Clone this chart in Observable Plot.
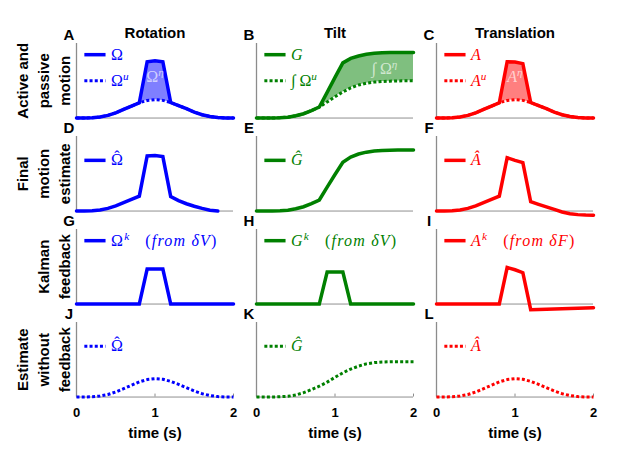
<!DOCTYPE html>
<html><head><meta charset="utf-8">
<script src="https://cdn.jsdelivr.net/npm/d3@7"></script>
<script src="https://cdn.jsdelivr.net/npm/@observablehq/plot@0.6"></script>
<style>body{margin:0;background:#fff}#chart{width:617px;height:454px}</style>
</head><body><div id="chart"></div>
<script>
// ---------- data ----------
const time = [0,0.1,0.2,0.3,0.4,0.5,0.6,0.7,0.8,0.9,1.0,1.1,1.2,1.3,1.4,1.5,1.6,1.7,1.8,1.9,2.0];
const columns = ["Rotation","Tilt","Translation"];
const rowKeys = ["active","final","kalman","nofb"];
const rowLabels = ["Active and\npassive\nmotion","Final\nmotion\nestimate","Kalman\nfeedback","Estimate\nwithout\nfeedback"];
const panelLetters = [["A","B","C"],["D","E","F"],["G","H","I"],["J","K","L"]];
const xTicks = [0,1,2];
const xLabel = "time (s)";

// Rotation
const omega        = [0,0.001,0.004,0.015,0.036,0.07,0.115,0.16,0.205,0.755,0.77,0.755,0.208,0.168,0.125,0.08,0.044,0.02,0.006,0.001,0];
const omegaU       = [0,0.001,0.004,0.015,0.036,0.07,0.115,0.16,0.205,0.235,0.247,0.237,0.208,0.168,0.125,0.08,0.044,0.02,0.006,0.001,0];
const omegaHat     = [0,0.001,0.004,0.015,0.036,0.07,0.112,0.155,0.2,0.74,0.745,0.73,0.195,0.14,0.098,0.065,0.036,0.012,0,null,null];
const omegaK       = [0,0,0,0,0,0,0,0,0,0.47,0.47,0.47,0,0,0,0,0,0,0,0,0];
const omegaHatNoFb = [0,0.001,0.004,0.014,0.034,0.068,0.112,0.158,0.203,0.234,0.246,0.238,0.21,0.17,0.126,0.082,0.045,0.02,0.006,0.001,0];
// Tilt
const tiltG        = [0,0,0.001,0.004,0.012,0.03,0.058,0.1,0.148,0.345,0.545,0.74,0.8,0.832,0.855,0.868,0.875,0.878,0.88,0.88,0.88];
const tiltIntU     = [0,0,0.001,0.004,0.012,0.03,0.058,0.1,0.148,0.215,0.285,0.35,0.405,0.443,0.467,0.482,0.49,0.495,0.498,0.5,0.5];
const tiltHat      = [0,0,0.001,0.004,0.012,0.03,0.058,0.1,0.148,0.32,0.49,0.655,0.725,0.765,0.79,0.805,0.812,0.816,0.818,0.82,0.82];
const tiltK        = [0,0,0,0,0,0,0,0,0,0.43,0.43,0.43,0,0,0,0,0,0,0,0,0];
const tiltHatNoFb  = [0,0,0.001,0.004,0.01,0.027,0.058,0.1,0.145,0.2,0.265,0.325,0.375,0.415,0.445,0.462,0.47,0.474,0.475,0.475,0.475];
// Translation
const acc          = [0,0.001,0.004,0.015,0.036,0.07,0.115,0.16,0.205,0.755,0.752,0.73,0.208,0.168,0.125,0.08,0.044,0.02,0.006,0.001,0];
const accU         = [0,0.001,0.004,0.015,0.036,0.07,0.115,0.16,0.205,0.235,0.247,0.237,0.208,0.168,0.125,0.08,0.044,0.02,0.006,0.001,0];
const accHat       = [0,0.001,0.004,0.015,0.036,0.07,0.112,0.155,0.2,0.715,0.68,0.65,0.125,0.09,0.056,0.022,-0.012,-0.035,-0.048,-0.053,-0.055];
const accK         = [0,0,0,0,0,0,0,0,0,0.49,0.46,0.42,-0.075,-0.072,-0.069,-0.066,-0.063,-0.059,-0.056,-0.053,-0.05];
const accHatNoFb   = [0,0.001,0.004,0.014,0.034,0.068,0.112,0.158,0.203,0.234,0.246,0.238,0.21,0.17,0.126,0.082,0.045,0.02,0.006,0.001,0];

// series: column, row, legend label (math markup: ^{..} superscript, ~ wide math gap), values, dotted?
const series = [
  ["Rotation","active","Ω",omega,false],
  ["Rotation","active","Ω^{u}",omegaU,true],
  ["Rotation","final","Ω\u0302",omegaHat,false],
  ["Rotation","kalman","Ω^{k}~(from δV)",omegaK,false],
  ["Rotation","nofb","Ω\u0302",omegaHatNoFb,true],
  ["Tilt","active","G",tiltG,false],
  ["Tilt","active","∫ Ω^{u}",tiltIntU,true],
  ["Tilt","final","Ĝ",tiltHat,false],
  ["Tilt","kalman","G^{k}~(from δV)",tiltK,false],
  ["Tilt","nofb","Ĝ",tiltHatNoFb,true],
  ["Translation","active","A",acc,false],
  ["Translation","active","A^{u}",accU,true],
  ["Translation","final","Â",accHat,false],
  ["Translation","kalman","A^{k}~(from δF)",accK,false],
  ["Translation","nofb","Â",accHatNoFb,true]
];
// shaded differences: column, lower, upper, t from, t to, label
const fills = [
  ["Rotation",omegaU,omega,0.8,1.2,"Ω^{η}"],
  ["Tilt",tiltIntU,tiltG,0.8,2.0,"∫ Ω^{η}"],
  ["Translation",accU,acc,0.8,1.2,"A^{η}"]
];

// ---------- styles / layout ----------
const colors = {Rotation:"#0000ff", Tilt:"#008000", Translation:"#ff0000"};
const legendSlotsY = {active:[0.85,0.5], final:[0.68], kalman:[0.85], nofb:[0.68]};
const fillLabelPos = {Rotation:[1.0,0.55], Tilt:[1.63,0.66], Translation:[1.0,0.55]};
const mathFont = "'Liberation Serif','Times New Roman',serif";

// ---------- tables built from the arrays ----------
const lineRows = series.flatMap(([col,row,label,vals,dotted],si) =>
  time.map((t,i)=>({si,col,row,t,v:vals[i],dotted,color:colors[col]})).filter(d=>d.v!=null));
const slotCount = {};
const legendRows = series.map(([col,row,label,vals,dotted]) => {
  const k = col+row; const s = slotCount[k] = (slotCount[k] ?? -1) + 1;
  return {col,row,label,dotted,color:colors[col],ly:legendSlotsY[row][s]};
});
const fillRows = fills.flatMap(([col,lo,hi,a,b],fi) =>
  time.map((t,i)=>({fi,col,row:"active",t,lo:lo[i],hi:hi[i],color:colors[col]})).filter(d=>d.t>=a-1e-9 && d.t<=b+1e-9));
const fillLabels = fills.map(([col,,,,,label])=>({col,row:"active",label,lx:fillLabelPos[col][0],ly:fillLabelPos[col][1]}));
const panels = columns.flatMap(col=>rowKeys.map(row=>({col,row})));
const letterRows = rowKeys.flatMap((row,ri)=>columns.map((col,ci)=>({col,row,letter:panelLetters[ri][ci]})));
const titleRows = columns.map(col=>({col,row:"active",title:col}));
const rowLabelRows = rowKeys.map((row,i)=>({col:"Rotation",row,label:rowLabels[i]}));
const tickRows = columns.flatMap(col=>xTicks.map(t=>({col,row:"nofb",t})));
const xLabelRows = columns.map(col=>({col,row:"nofb",label:xLabel}));

const F = {fx:"col", fy:"row"};
const chart = Plot.plot({
  width:617, height:454,
  marginLeft:75, marginRight:24, marginTop:43.3, marginBottom:49.7,
  x:{domain:[0,2], axis:null},
  y:{domain:[-0.1,1], axis:null},
  fx:{domain:columns, paddingInner:0.128, paddingOuter:0, axis:null},
  fy:{domain:rowKeys, paddingInner:0.1183, paddingOuter:0, axis:null},
  style:{fontFamily:"'Liberation Sans',Arial,sans-serif", overflow:"visible", background:"#fff"},
  marks:[
    Plot.areaY(fillRows,{...F, x:"t", y1:"lo", y2:"hi", z:"fi", fill:"color", fillOpacity:0.5}),
    Plot.ruleY(panels,{...F, y:()=>0, x1:()=>0, x2:()=>2, stroke:"#8f8f8f", strokeWidth:1}),
    Plot.ruleX(panels,{...F, x:()=>0, y1:()=>0, y2:()=>1, stroke:"#8c8c8c", strokeWidth:1.3}),
    Plot.ruleX(tickRows,{...F, x:"t", y1:()=>0, y2:()=>0.04, stroke:"#8c8c8c", strokeWidth:1}),
    Plot.line(lineRows.filter(d=>!d.dotted),{...F, x:"t", y:"v", z:"si", stroke:"color", strokeWidth:3.5, strokeLinejoin:"miter", strokeMiterlimit:3}),
    Plot.line(lineRows.filter(d=>d.dotted),{...F, x:"t", y:"v", z:"si", stroke:"color", strokeWidth:3, strokeDasharray:"3,2.2", strokeLinecap:"butt"}),
    Plot.link(legendRows.filter(d=>!d.dotted),{...F, x1:()=>0.1, x2:()=>0.37, y1:"ly", y2:"ly", stroke:"color", strokeWidth:3.5}),
    Plot.link(legendRows.filter(d=>d.dotted),{...F, x1:()=>0.1, x2:()=>0.37, y1:"ly", y2:"ly", stroke:"color", strokeWidth:3, strokeDasharray:"3,2.2"}),
    Plot.text(legendRows,{...F, x:()=>0.44, y:"ly", text:"label", fill:"color", textAnchor:"start", lineAnchor:"middle", fontSize:16, fontFamily:mathFont, ariaDescription:"math"}),
    Plot.text(fillLabels,{...F, x:"lx", y:"ly", text:"label", fill:"white", fillOpacity:0.65, textAnchor:"middle", lineAnchor:"middle", fontSize:16, fontFamily:mathFont, ariaDescription:"math"}),
    Plot.text(letterRows,{...F, text:"letter", frameAnchor:"top-left", textAnchor:"middle", lineAnchor:"middle", dx:-7.5, dy:-8.5, fontSize:15, fontWeight:"bold", fill:"black"}),
    Plot.text(titleRows,{...F, x:()=>1, text:"title", frameAnchor:"top", textAnchor:"middle", lineAnchor:"middle", dy:-10.3, fontSize:15, fontWeight:"bold", fill:"black"}),
    Plot.text(rowLabelRows,{...F, x:()=>0, y:()=>0.5, text:"label", rotate:-90, textAnchor:"middle", lineAnchor:"bottom", lineHeight:1.4, dx:-6.5, fontSize:15, fontWeight:"bold", fill:"black"}),
    Plot.text(tickRows,{...F, x:"t", text:d=>String(d.t), frameAnchor:"bottom", textAnchor:"middle", lineAnchor:"middle", dy:8.5, fontSize:13, fontWeight:"bold", fill:"black"}),
    Plot.text(xLabelRows,{...F, x:()=>1, text:"label", frameAnchor:"bottom", textAnchor:"middle", lineAnchor:"middle", dy:28.7, fontSize:15, fontWeight:"bold", fill:"black"})
  ]
});
document.getElementById("chart").appendChild(chart);

// math-style rendering of legend labels: italic latin letters, raised superscripts, hats
const italicRe = /[A-Za-zδηĜÂ]/;
const mathTexts = Array.from(chart.querySelectorAll("text")).filter(t => /[ΩĜÂ∫~]|\^\{/.test(t.textContent) || /^[GA]$/.test(t.textContent.trim()) && (t.closest("g")?.getAttribute("font-family")||"").includes("Serif"));
d3.selectAll(mathTexts).each(function(){
  const s = this.textContent;
  const fs = 16;
  const el = d3.select(this); el.text(null);
  if (/from/.test(s)) el.attr("letter-spacing", 1.2);
  const segs = []; let i = 0;
  while (i < s.length) {
    if (s[i]==="^" && s[i+1]==="{") { const j = s.indexOf("}",i); segs.push({t:s.slice(i+2,j),sup:true}); i=j+1; }
    else { let j=i; while (j<s.length && !(s[j]==="^"&&s[j+1]==="{")) j++; segs.push({t:s.slice(i,j),sup:false}); i=j; }
  }
  let prevSup = false, pendingDx = 0;
  for (const seg of segs) {
    const runs = [];
    for (const ch of seg.t) {
      const last = runs[runs.length-1];
      if (ch === "~") { runs.push({gap:true}); continue; }
      if (ch === "\u0302" && last) { last.hat = true; continue; }
      const it = italicRe.test(ch);
      if (last && !last.gap && !last.hat && last.it===it) last.s += ch; else runs.push({s:ch,it});
    }
    let first = true;
    runs.forEach(r=>{
      if (r.gap) { pendingDx += 15; return; }
      const ts = el.append("tspan").text(r.s).attr("font-style", r.it?"italic":"normal");
      if (seg.sup) ts.attr("font-size", fs*0.7);
      let dy = 0;
      if (first && seg.sup && !prevSup) dy = -0.38*fs;
      if (first && !seg.sup && prevSup) dy = 0.38*fs;
      if (pendingDx) { ts.attr("dx", pendingDx); pendingDx = 0; }
      if (r.hat) {
        // one tspan "Ωˆ": the modifier circumflex is pulled back over the letter and raised
        const w = ts.node().getComputedTextLength();
        ts.text(r.s + "\u02C6");
        const hw = ts.node().getComputedTextLength() - w;
        ts.attr("dx", `0 ${-(w/2 + hw/2)}`).attr("dy", `${dy} -3`);
      } else if (dy) ts.attr("dy", dy);
      first = false;
    });
    prevSup = seg.sup;
  }
});
</script>
</body></html>
